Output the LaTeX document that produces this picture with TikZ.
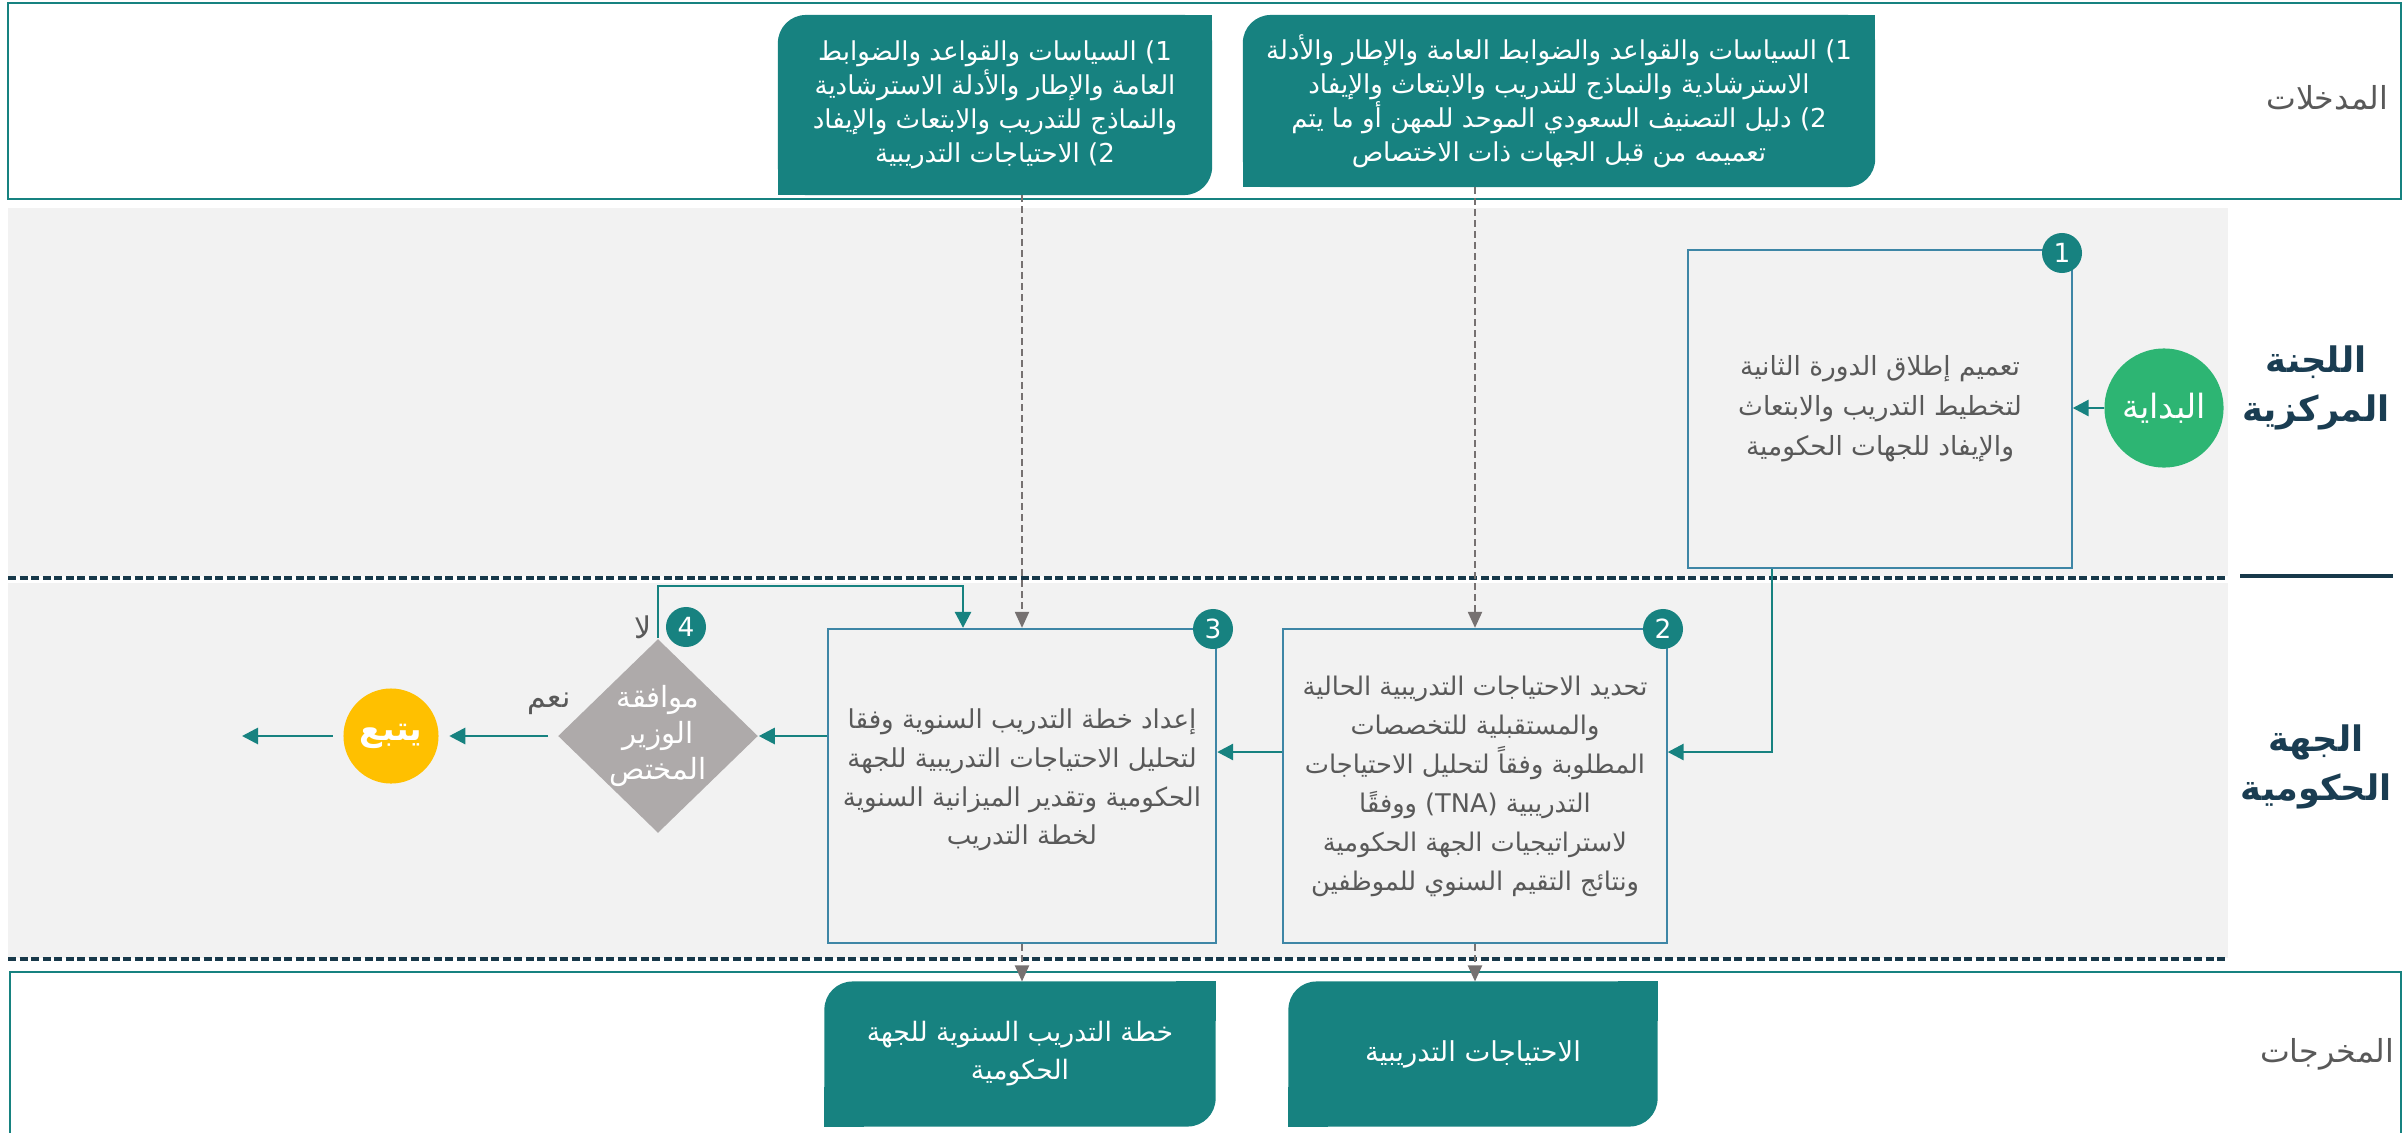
\documentclass[tikz,border=0pt]{standalone}
\usepackage{fontspec}
\usetikzlibrary{positioning,shapes.geometric,arrows.meta,backgrounds}
\newfontfamily\arabicfont[Script=Arabic]{DejaVu Sans}
\TeXXeTstate=1
\newcommand{\arl}[1]{\beginR #1\endR}

\definecolor{tealc}{RGB}{23,130,128}
\definecolor{boxline}{RGB}{62,134,166}
\definecolor{bandgrey}{RGB}{242,242,242}
\definecolor{navyc}{RGB}{24,57,74}
\definecolor{greyline}{RGB}{118,113,113}
\definecolor{textgrey}{RGB}{89,89,89}
\definecolor{startgreen}{RGB}{45,181,115}
\definecolor{contyellow}{RGB}{255,192,0}
\definecolor{diamondgrey}{RGB}{174,170,170}
\definecolor{lanenavy}{RGB}{26,61,82}

\begin{document}
\begin{tikzpicture}[x=0.01cm, y=-0.01cm,
    every node/.style={font=\arabicfont},
    procbox/.style={draw=boxline, line width=0.6pt, align=center, text=textgrey, inner sep=0pt,
        font=\arabicfont\fontsize{7.4}{11}\selectfont},
    iobox/.style={fill=tealc, rounded corners=0.28cm, align=center, text=white, inner sep=0pt,
        outer sep=0pt, font=\arabicfont\fontsize{7.4}{9.7}\selectfont},
    badge/.style={circle, fill=tealc, text=white, minimum size=0.4cm, inner sep=0pt,
        font=\arabicfont\fontsize{7.5}{8}\selectfont},
    lane/.style={align=center, text=lanenavy, font=\arabicfont\bfseries\fontsize{10}{14}\selectfont},
    iolabel/.style={text=textgrey, font=\arabicfont\fontsize{9}{10}\selectfont},
    flow/.style={draw=tealc, line width=0.8pt, -{Triangle[length=0.16cm, width=0.16cm]}},
    dflow/.style={draw=greyline, line width=0.6pt, dash pattern=on 0.07cm off 0.04cm,
        -{Triangle[length=0.16cm, width=0.14cm]}},
    lanesep/.style={navyc, line width=0.9pt, dash pattern=on 0.08cm off 0.035cm}]
\useasboundingbox (0,0) rectangle (2405,1133);

% lanes
\fill[bandgrey] (8,208) rectangle (2228,576);
\fill[bandgrey] (8,583) rectangle (2228,958);
\draw[tealc, line width=0.8pt] (8,3) rectangle (2401,199);
\draw[tealc, line width=0.8pt] (10,1140) -- (10,972) -- (2401,972) -- (2401,1140);
\draw[lanesep] (8,578) -- (2228,578);
\draw[lanesep] (8,959) -- (2228,959);
\draw[navyc, line width=1.3pt] (2240,576) -- (2393,576);

\node[iolabel] (lblin) at (2327,98) {\arl{المدخلات}};
\node[lane] (lane1) at (2316,388) {\arl{اللجنة}\\\arl{المركزية}};
\node[lane] (lane2) at (2316,767) {\arl{الجهة}\\\arl{الحكومية}};
\node[iolabel] (lblout) at (2327,1054) {\arl{المخرجات}};

% inputs and outputs
\node[iobox, minimum width=4.34cm, minimum height=1.8cm] (inA) at (995,105)
    {\arl{\beginL 1)\endL{} السياسات والقواعد والضوابط}\\
     \arl{العامة والإطار والأدلة الاسترشادية}\\
     \arl{والنماذج للتدريب والابتعاث والإيفاد}\\
     \arl{\beginL 2)\endL{} الاحتياجات التدريبية}};
\node[iobox, minimum width=6.32cm, minimum height=1.72cm] (inB) at (1559,101)
    {\arl{\beginL 1)\endL{} السياسات والقواعد والضوابط العامة والإطار والأدلة}\\
     \arl{الاسترشادية والنماذج للتدريب والابتعاث والإيفاد}\\
     \arl{\beginL 2)\endL{} دليل التصنيف السعودي الموحد للمهن أو ما يتم}\\
     \arl{تعميمه من قبل الجهات ذات الاختصاص}};
\node[iobox, minimum width=3.91cm, minimum height=1.45cm, font=\arabicfont\fontsize{7.6}{10.8}\selectfont] (out1) at (1020,1054)
    {\arl{خطة التدريب السنوية للجهة}\\\arl{الحكومية}};
\node[iobox, minimum width=3.69cm, minimum height=1.45cm, font=\arabicfont\fontsize{7.8}{10.8}\selectfont] (out2) at (1473,1054)
    {\arl{الاحتياجات التدريبية}};
\begin{scope}[on background layer]
\foreach \b in {inA,inB,out1,out2} {
    \fill[tealc] (\b.north east) rectangle ++(-40,40);
    \fill[tealc] (\b.south west) rectangle ++(40,-40);
}
\end{scope}

% steps
\node[procbox, minimum width=3.83cm, minimum height=3.18cm, font=\arabicfont\fontsize{7.5}{11.4}\selectfont] (s1) at (1880,409)
    {\arl{تعميم إطلاق الدورة الثانية}\\
     \arl{لتخطيط التدريب والابتعاث}\\
     \arl{والإيفاد للجهات الحكومية}};
\node[procbox, minimum width=3.83cm, minimum height=3.14cm, font=\arabicfont\fontsize{7.3}{11.1}\selectfont] (s2) at (1475,786)
    {\arl{تحديد الاحتياجات التدريبية الحالية}\\
     \arl{والمستقبلية للتخصصات}\\
     \arl{المطلوبة وفقاً لتحليل الاحتياجات}\\
     \arl{التدريبية \beginL(TNA)\endL{}  ووفقًا}\\
     \arl{لاستراتيجيات الجهة الحكومية}\\
     \arl{ونتائج التقيم السنوي للموظفين}};
\node[procbox, minimum width=3.88cm, minimum height=3.14cm, text depth=0.18cm] (s3) at (1022,786)
    {\arl{إعداد خطة التدريب السنوية وفقا}\\
     \arl{لتحليل الاحتياجات التدريبية للجهة}\\
     \arl{الحكومية وتقدير الميزانية السنوية}\\
     \arl{لخطة التدريب}};
\node[diamond, fill=diamondgrey, minimum width=2cm, minimum height=1.94cm, inner sep=0pt] (d4) at (658,736) {};
\node[text=white, align=center, font=\arabicfont\fontsize{8.3}{10.3}\selectfont] (d4t) at (d4)
    {\arl{موافقة}\\\arl{الوزير}\\\arl{المختص}};

\node[circle, fill=startgreen, minimum size=1.19cm, inner sep=0pt, text=white,
    font=\arabicfont\fontsize{9.5}{12}\selectfont] (start) at (2164,408) {\arl{البداية}};
\node[circle, fill=contyellow, minimum size=0.95cm, inner sep=0pt, text=white,
    font=\arabicfont\bfseries\fontsize{9.5}{12}\selectfont] (cont) at (391,736) {\arl{يتبع}};

\node[badge] (b1) at (2062,253) {1};
\node[badge] (b2) at (1663,629) {2};
\node[badge] (b3) at (1213,629) {3};
\node[badge] (b4) at (686,627) {4};

\node[text=textgrey, font=\arabicfont\fontsize{8.5}{10}\selectfont] (yes) at (549,704) {\arl{نعم}};
\node[text=textgrey, font=\arabicfont\fontsize{8.5}{10}\selectfont] (no) at (643,627) {\arl{لا}};

% connectors
\coordinate (j12) at (1772,752);
\coordinate (loop) at (963,586);
\coordinate (endpt) at (242,736);

\draw[flow] (start.west) -- (s1.east |- start.west);
\draw[flow] (s1.south -| j12) |- (s2.east |- j12);
\draw[flow] (s2.west |- j12) -- (s3.east |- j12);
\draw[flow] (s3.west |- d4) -- (d4.east);
\draw[flow, shorten <=0.09cm, shorten >=0.1cm] (d4.west) -- (cont.east);
\draw[flow, shorten <=0.1cm] (cont.west) -- (endpt);
\draw[flow] (d4.north) |- (loop) -- (loop |- s3.north);

\draw[dflow] (inA.south -| s3.north) -- (s3.north);
\draw[dflow] (inB.south -| s2.north) -- (s2.north);
\draw[dflow] (s3.south) -- (out1.north -| s3.south);
\draw[dflow] (s2.south) -- (out2.north -| s2.south);
\end{tikzpicture}
\end{document}
